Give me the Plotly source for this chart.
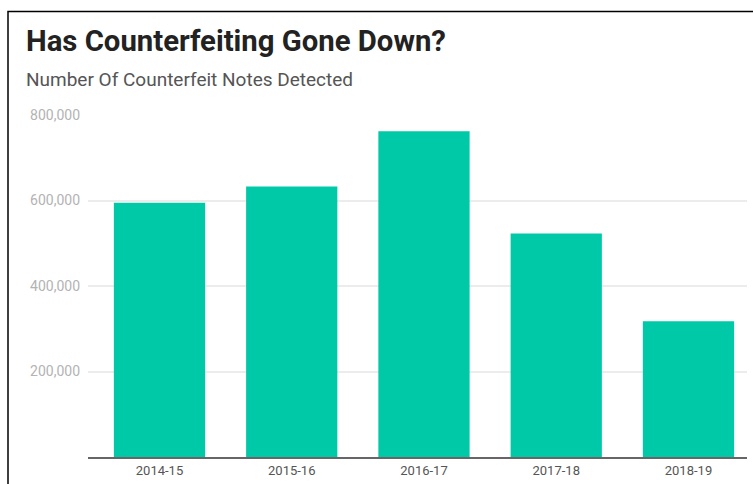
import plotly.graph_objects as go

# Counterfeit notes detected per financial year
years = ["2014-15", "2015-16", "2016-17", "2017-18", "2018-19"]
notes_detected = [594446, 632926, 762072, 522783, 317384]
y_ticks = [200000, 400000, 600000, 800000]
y_tick_labels = ["200,000", "400,000", "600,000", "800,000"]

W, H = 753, 484
ML, MR, MT, MB = 88, 6, 115, 22
plot_w = W - ML - MR
plot_h = H - MT - MB

def px_x(px):
    return (px - ML) / plot_w

def px_y(py):
    return (H - MB - py) / plot_h

fig = go.Figure(
    go.Bar(
        x=list(range(len(years))),
        y=notes_detected,
        marker=dict(color="#00C9A8", line=dict(width=0)),
        width=0.69,
        hoverinfo="x+y",
    )
)

fig.update_layout(
    width=W,
    height=H,
    margin=dict(l=ML, r=MR, t=MT, b=MB),
    paper_bgcolor="white",
    plot_bgcolor="white",
    showlegend=False,
    font=dict(family="Roboto, Arial, sans-serif"),
    xaxis=dict(
        range=[-0.5406, 4.4425],
        tickvals=list(range(len(years))),
        ticktext=years,
        tickfont=dict(size=13, color="#555555"),
        showgrid=False,
        zeroline=False,
        showline=True,
        linecolor="#666666",
        linewidth=1.5,
        ticks="",
        ticklabelstandoff=1,
    ),
    yaxis=dict(
        range=[0, 800000],
        tickvals=y_ticks,
        ticktext=y_tick_labels,
        tickfont=dict(size=14, color="#b3b3b3"),
        showgrid=True,
        gridcolor="#ececec",
        gridwidth=1.5,
        zeroline=False,
        showline=False,
        ticks="",
        ticklabelstandoff=7,
    ),
    annotations=[
        dict(
            text="<b>Has Counterfeiting Gone Down?</b>",
            xref="paper", yref="paper",
            x=px_x(24), y=px_y(40),
            xanchor="left", yanchor="middle",
            showarrow=False,
            font=dict(size=29.3, color="#222222", family="Roboto, Arial, sans-serif"),
        ),
        dict(
            text="Number Of Counterfeit Notes Detected",
            xref="paper", yref="paper",
            x=px_x(24), y=px_y(79),
            xanchor="left", yanchor="middle",
            showarrow=False,
            font=dict(size=19, color="#555555", family="Roboto, Arial, sans-serif"),
        ),
    ],
    shapes=[
        dict(
            type="rect",
            xref="paper", yref="paper",
            x0=px_x(8), x1=px_x(770),
            y0=px_y(500), y1=px_y(10),
            line=dict(color="black", width=1.5),
            fillcolor="rgba(0,0,0,0)",
            layer="above",
        )
    ],
)

fig.write_html("out.html")
